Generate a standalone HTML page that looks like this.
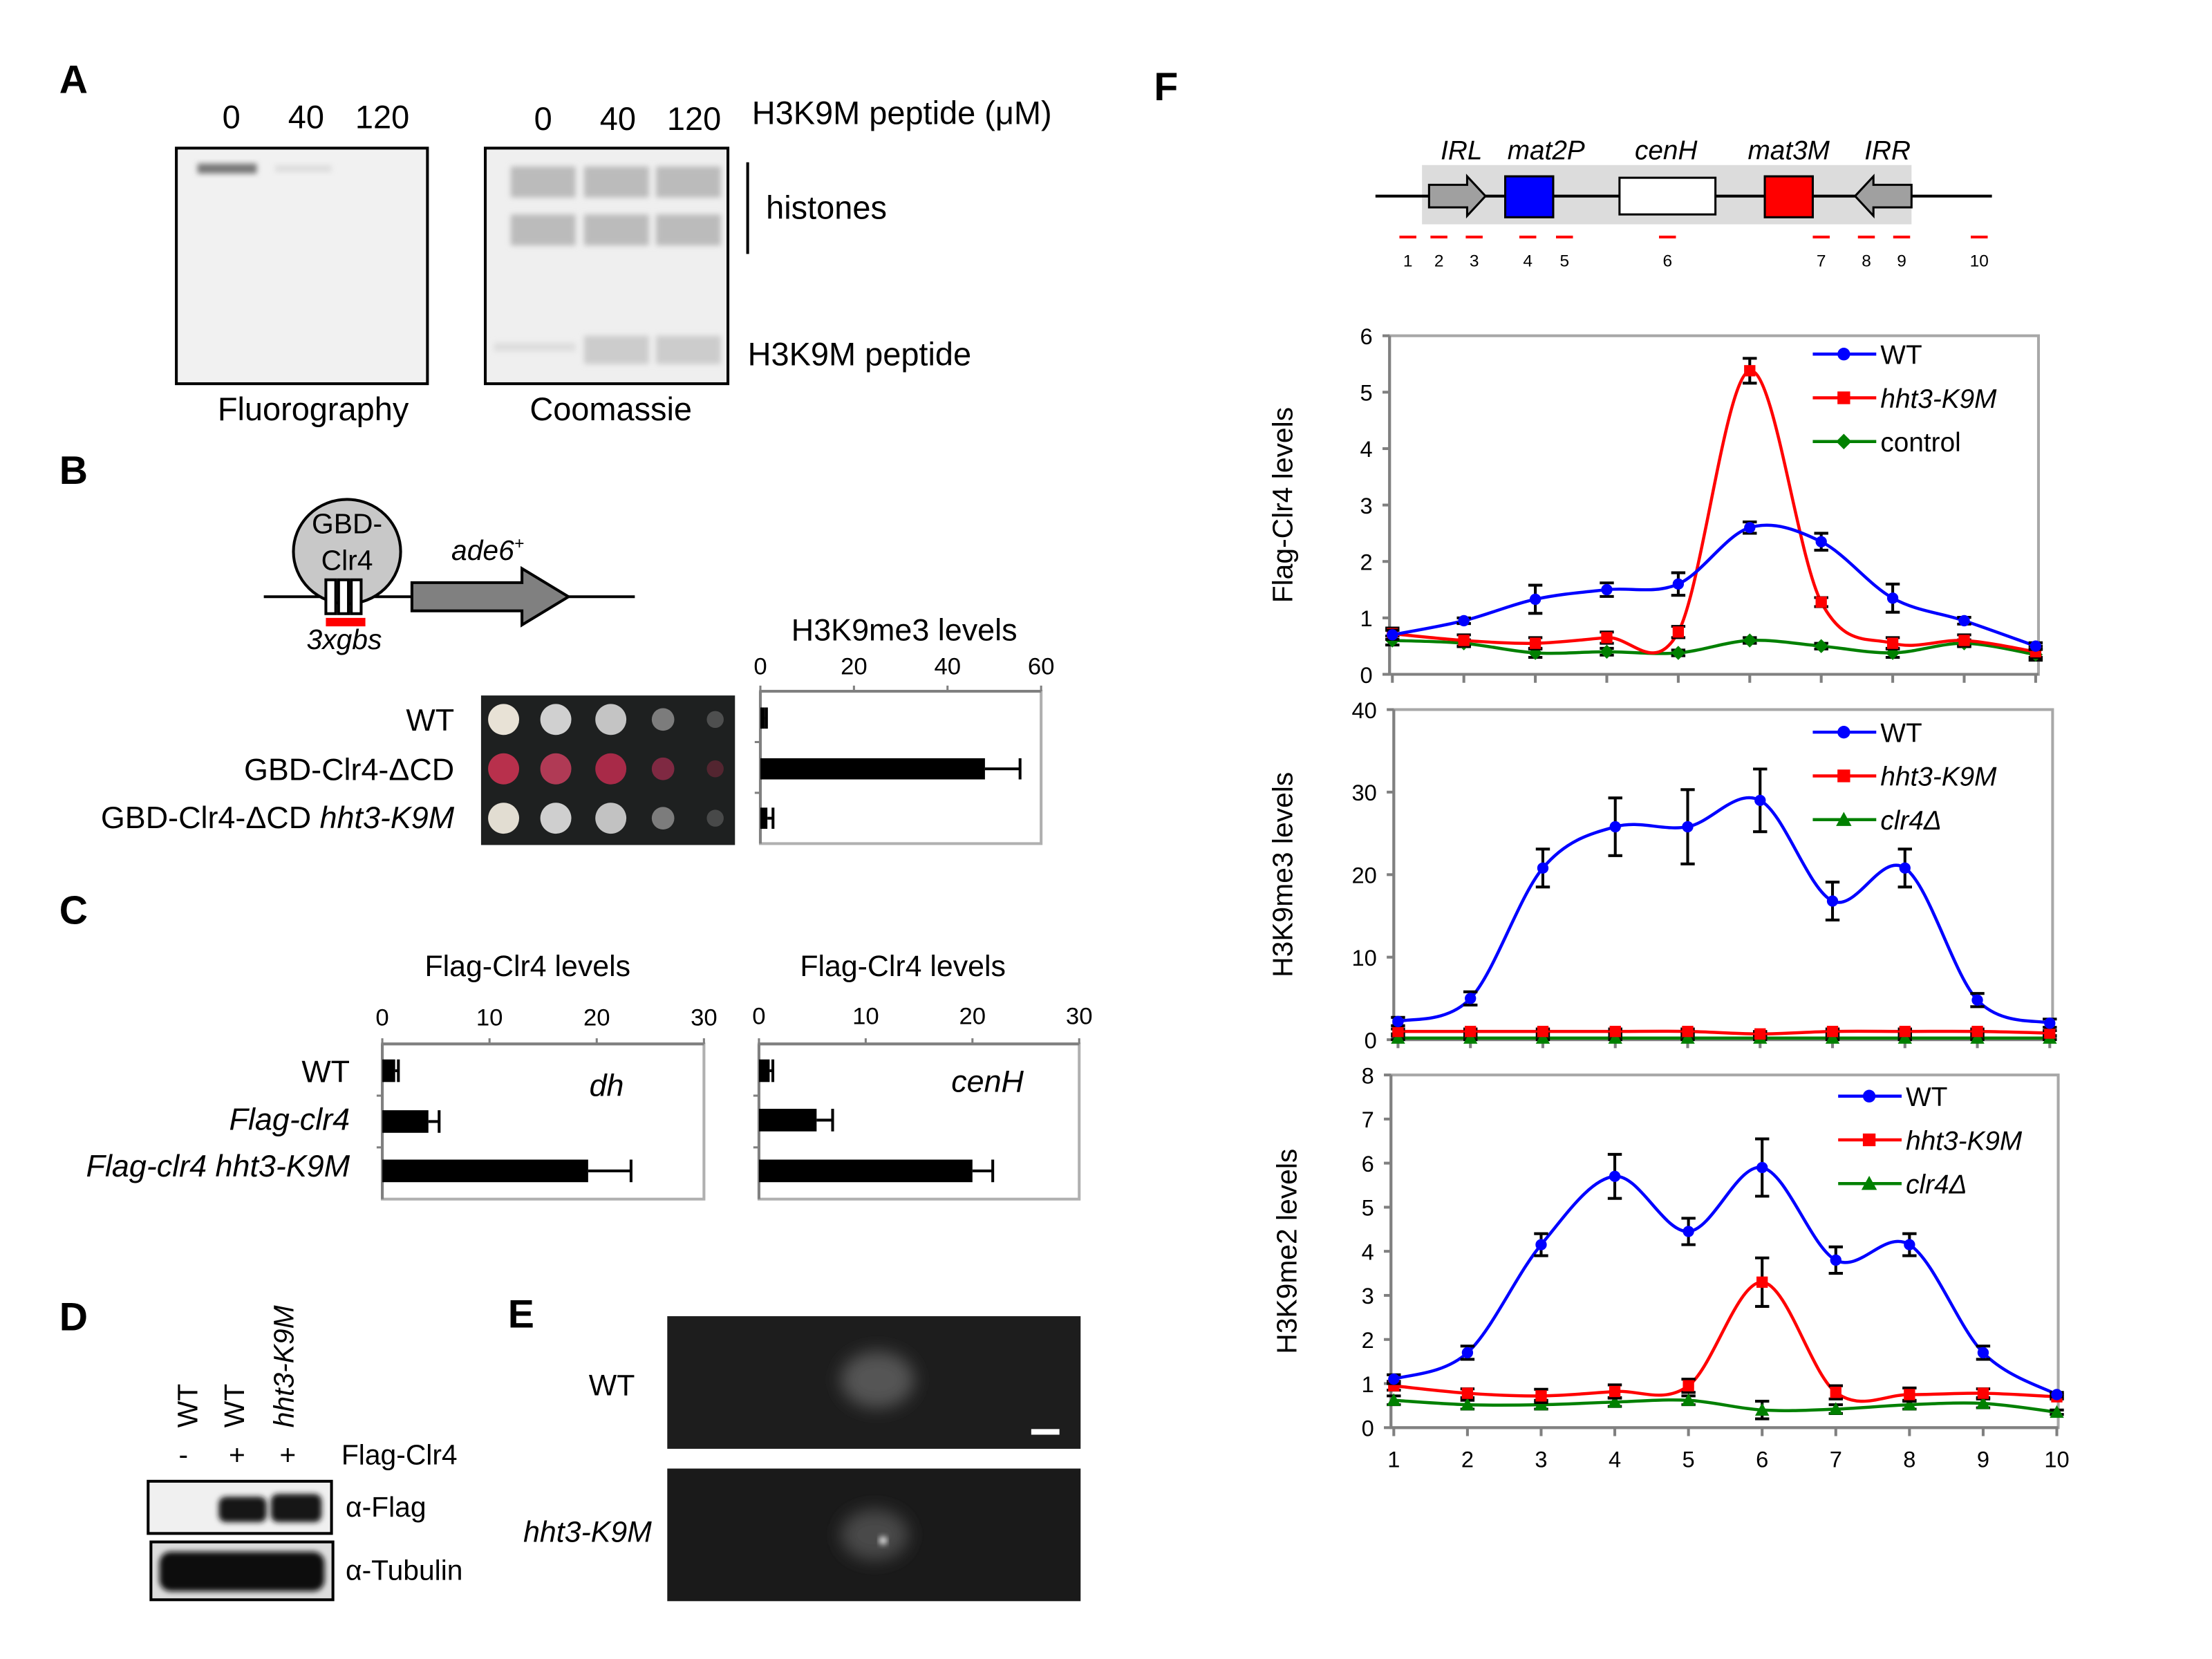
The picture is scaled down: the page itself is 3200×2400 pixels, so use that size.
<!DOCTYPE html>
<html><head><meta charset="utf-8"><style>
html,body{margin:0;padding:0;background:#fff;}
svg{display:block;}
text{font-family:"Liberation Sans",sans-serif;}
</style></head><body>
<svg id="fig" width="3200" height="2400" viewBox="0 0 1568 1176" xmlns="http://www.w3.org/2000/svg">
<defs>
<filter id="blur2" x="-20%" y="-50%" width="140%" height="200%"><feGaussianBlur stdDeviation="2"/></filter>
<filter id="blur6" x="-50%" y="-50%" width="200%" height="200%"><feGaussianBlur stdDeviation="6"/></filter>
</defs>
<rect width="1568" height="1176" fill="#fff"/>
<g font-size="28" font-weight="bold">
<text x="42" y="66">A</text><text x="42" y="343">B</text><text x="42" y="655">C</text>
<text x="42" y="943">D</text><text x="360" y="941">E</text><text x="818" y="71">F</text>
</g>
<g font-size="23">
<text x="164" y="91" text-anchor="middle">0</text><text x="217" y="91" text-anchor="middle">40</text><text x="271" y="91" text-anchor="middle">120</text>
<text x="385" y="92" text-anchor="middle">0</text><text x="438" y="92" text-anchor="middle">40</text><text x="492" y="92" text-anchor="middle">120</text>
<text x="533" y="88">H3K9M peptide (μM)</text>
<rect x="125" y="105" width="178" height="167" fill="#f1f1f1" stroke="#000" stroke-width="2"/>
<rect x="140" y="116" width="42" height="7" fill="#777" filter="url(#blur2)"/>
<rect x="195" y="117" width="40" height="5" fill="#ddd" filter="url(#blur2)"/>
<rect x="344" y="105" width="172" height="167" fill="#efefef" stroke="#000" stroke-width="2"/>
<g fill="#bbb" filter="url(#blur2)">
<rect x="362" y="118" width="46" height="22"/><rect x="414" y="118" width="46" height="22"/><rect x="465" y="118" width="46" height="22"/>
<rect x="362" y="152" width="46" height="22"/><rect x="414" y="152" width="46" height="22"/><rect x="465" y="152" width="46" height="22"/>
</g>
<g fill="#ccc" filter="url(#blur2)"><rect x="414" y="238" width="46" height="20"/><rect x="465" y="238" width="46" height="20"/><rect x="350" y="243" width="58" height="6" fill="#ddd"/></g>
<line x1="530" y1="115" x2="530" y2="180" stroke="#000" stroke-width="2"/>
<text x="543" y="155">histones</text>
<text x="530" y="259">H3K9M peptide</text>
<text x="222" y="298" text-anchor="middle">Fluorography</text>
<text x="433" y="298" text-anchor="middle">Coomassie</text>
</g>
<g>
<line x1="187" y1="423" x2="450" y2="423" stroke="#000" stroke-width="2"/>
<ellipse cx="246" cy="391" rx="38" ry="37" fill="#c8c8c8" stroke="#000" stroke-width="2"/>
<text x="246" y="378" font-size="20" text-anchor="middle">GBD-</text>
<text x="246" y="404" font-size="20" text-anchor="middle">Clr4</text>
<g fill="#fff" stroke="#000" stroke-width="2"><rect x="231" y="411" width="7" height="24"/><rect x="240" y="411" width="7" height="24"/><rect x="249" y="411" width="7" height="24"/></g>
<rect x="231" y="438" width="28" height="6" fill="#f00"/>
<text x="244" y="460" font-size="20" font-style="italic" text-anchor="middle">3xgbs</text>
<path d="M292,413 L370,413 L370,403 L403,423 L370,443 L370,433 L292,433Z" fill="#808080" stroke="#000" stroke-width="2"/>
<text x="320" y="397" font-size="20" font-style="italic">ade6<tspan font-size="12" dy="-8">+</tspan></text>
<g font-size="22" text-anchor="end">
<text x="322" y="518">WT</text><text x="322" y="553">GBD-Clr4-ΔCD</text>
<text x="322" y="587">GBD-Clr4-ΔCD <tspan font-style="italic">hht3-K9M</tspan></text>
</g>
<rect x="341" y="493" width="180" height="106" fill="#1e2020"/>
<g id="spots"></g>
<text x="641" y="454" font-size="22" text-anchor="middle">H3K9me3 levels</text>
<g id="chartB"></g>
</g>
<g>
<text x="374" y="692" font-size="21" text-anchor="middle">Flag-Clr4 levels</text>
<text x="640" y="692" font-size="21" text-anchor="middle">Flag-Clr4 levels</text>
<g font-size="22" text-anchor="end">
<text x="248" y="767">WT</text>
<text x="248" y="801" font-style="italic">Flag-clr4</text>
<text x="248" y="834" font-style="italic">Flag-clr4 hht3-K9M</text>
</g>
<g id="chartC1"></g><g id="chartC2"></g>
<text x="430" y="777" font-size="22" font-style="italic" text-anchor="middle">dh</text>
<text x="700" y="774" font-size="22" font-style="italic" text-anchor="middle">cenH</text>
</g>
<g font-size="20">
<text transform="translate(140,1012) rotate(-90)">WT</text>
<text transform="translate(173,1012) rotate(-90)">WT</text>
<text transform="translate(208,1012) rotate(-90)" font-style="italic">hht3-K9M</text>
<text x="130" y="1038" text-anchor="middle">-</text><text x="168" y="1038" text-anchor="middle">+</text><text x="204" y="1038" text-anchor="middle">+</text>
<text x="242" y="1038">Flag-Clr4</text>
<rect x="105" y="1050" width="130" height="37" fill="#f0f0f0" stroke="#000" stroke-width="2"/>
<rect x="155" y="1061" width="34" height="18" rx="5" fill="#151515" filter="url(#blur2)"/>
<rect x="192" y="1059" width="36" height="20" rx="5" fill="#151515" filter="url(#blur2)"/>
<text x="245" y="1075">α-Flag</text>
<rect x="107" y="1093" width="129" height="41" fill="#ddd" stroke="#000" stroke-width="2"/>
<rect x="113" y="1100" width="117" height="28" rx="8" fill="#111" filter="url(#blur2)"/>
<text x="245" y="1120">α-Tubulin</text>
</g>
<g font-size="21">
<rect x="473" y="933" width="293" height="94" fill="#1d1d1d"/>
<ellipse cx="622" cy="978" rx="26" ry="20" fill="#555" filter="url(#blur6)"/>
<rect x="731" y="1013" width="20" height="4" fill="#fff"/>
<rect x="473" y="1041" width="293" height="94" fill="#1a1a1a"/>
<ellipse cx="620" cy="1088" rx="24" ry="18" fill="#4a4a4a" filter="url(#blur6)"/>
<circle cx="626" cy="1092" r="3" fill="#ddd" filter="url(#blur2)"/>
<text x="450" y="989" text-anchor="end">WT</text>
<text x="462" y="1093" text-anchor="end" font-style="italic">hht3-K9M</text>
</g>
<g>
<rect x="1008" y="117" width="347" height="42" fill="#dcdcdc"/>
<line x1="975" y1="139" x2="1412" y2="139" stroke="#000" stroke-width="2"/>
<path d="M1013,131 L1040,131 L1040,125 L1053,139 L1040,153 L1040,147 L1013,147Z" fill="#a0a0a0" stroke="#000" stroke-width="1.5"/>
<path d="M1355,131 L1328,131 L1328,125 L1315,139 L1328,153 L1328,147 L1355,147Z" fill="#a0a0a0" stroke="#000" stroke-width="1.5"/>
<rect x="1067" y="125" width="34" height="29" fill="#00f" stroke="#000" stroke-width="1.5"/>
<rect x="1148" y="126" width="68" height="26" fill="#fff" stroke="#000" stroke-width="1.5"/>
<rect x="1251" y="125" width="34" height="29" fill="#f00" stroke="#000" stroke-width="1.5"/>
<g font-size="19" font-style="italic" text-anchor="middle">
<text x="1036" y="113">IRL</text><text x="1096" y="113">mat2P</text><text x="1181" y="113">cenH</text><text x="1268" y="113">mat3M</text><text x="1338" y="113">IRR</text></g>
<g id="primers"></g>
</g>
<g id="chartF1"></g><g id="chartF2"></g><g id="chartF3"></g>
</svg>
<script>
const NS='http://www.w3.org/2000/svg';
function mk(parent,tag,attrs,txt){const e=document.createElementNS(NS,tag);for(const k in attrs)e.setAttribute(k,attrs[k]);if(txt!==undefined)e.textContent=txt;parent.appendChild(e);return e;}

const bCategories=['WT','GBD-Clr4-ΔCD','GBD-Clr4-ΔCD hht3-K9M'];
const bValues=[1,48,1.5];
const bErrors=[0.3,7.5,1.2];
const bTicks=[0,20,40,60];
const cCategories=['WT','Flag-clr4','Flag-clr4 hht3-K9M'];
const cDhValues=[1.2,4.3,19.2];
const cDhErrors=[0.3,1,4];
const cCenhValues=[1,5.4,20];
const cCenhErrors=[0.3,1.5,1.9];
const cTicks=[0,10,20,30];
const fSites=[1,2,3,4,5,6,7,8,9,10];
const f1WT=[0.7,0.95,1.33,1.5,1.6,2.6,2.35,1.35,0.95,0.5];
const f1WTerr=[0.08,0.05,0.25,0.12,0.2,0.1,0.15,0.25,0.06,0.06];
const f1K9M=[0.72,0.6,0.55,0.65,0.75,5.38,1.28,0.55,0.6,0.4];
const f1K9Merr=[0.1,0.1,0.1,0.1,0.1,0.22,0.08,0.1,0.1,0.1];
const f1Ctrl=[0.6,0.55,0.38,0.4,0.38,0.6,0.5,0.38,0.55,0.35];
const f1CtrlErr=[0.08,0.06,0.08,0.06,0.05,0.05,0.05,0.08,0.06,0.1];
const f1Ticks=[0,1,2,3,4,5,6];
const f2WT=[2.2,5,20.8,25.8,25.8,29,16.8,20.8,4.8,2];
const f2WTerr=[0.5,0.8,2.3,3.5,4.5,3.8,2.3,2.3,0.8,0.5];
const f2K9M=[1,1,1,1,1,0.7,1,1,1,0.8];
const f2K9Merr=[0.3,0.3,0.3,0.3,0.3,0.3,0.3,0.3,0.3,0.3];
const f2Clr4=[0.2,0.2,0.2,0.2,0.2,0.2,0.2,0.2,0.2,0.2];
const f2Clr4err=[0.2,0.2,0.2,0.2,0.2,0.2,0.2,0.2,0.2,0.2];
const f2Ticks=[0,10,20,30,40];
const f3WT=[1.1,1.7,4.15,5.7,4.45,5.9,3.8,4.15,1.7,0.75];
const f3WTerr=[0.1,0.15,0.25,0.5,0.3,0.65,0.3,0.25,0.15,0.05];
const f3K9M=[0.95,0.78,0.72,0.82,0.95,3.3,0.8,0.75,0.78,0.7];
const f3K9Merr=[0.1,0.1,0.15,0.15,0.15,0.55,0.15,0.15,0.1,0.05];
const f3Clr4=[0.62,0.52,0.52,0.58,0.62,0.4,0.42,0.52,0.55,0.35];
const f3Clr4err=[0.1,0.1,0.1,0.1,0.1,0.2,0.1,0.1,0.1,0.05];
const f3Ticks=[0,1,2,3,4,5,6,7,8];
const primerLabels=['1','2','3','4','5','6','7','8','9','10'];

(function(){
  const g=document.getElementById('spots');
  const rows=[{y:510,c:['#e8e2d6','#d0d0d0','#c4c4c4','#bbb','#aaa']},{y:545,c:['#b8304c','#b03a55','#a82a48','#c0305a','#b83050']},{y:580,c:['#e2ddd2','#cfcfcf','#c2c2c2','#bbb','#999']}];
  const xs=[357,394,433,470,507];
  rows.forEach((r,ri)=>{xs.forEach((x,i)=>{
    const rad=[11,11,11,8,6][i];
    const op=[1,1,1,0.6,0.35][i];
    const s=mk(g,'circle',{cx:x,cy:r.y,r:rad,fill:r.c[i],opacity:op});
    
    
  });});
})();

function hbar(gid,x0,x1,y0,y1,ticks,vals,errs,centers,bh,tickFont,tickY){
  const g=document.getElementById(gid);
  const max=ticks[ticks.length-1];
  const sx=v=>x0+(x1-x0)*v/max;
  mk(g,'rect',{x:x0,y:y0,width:x1-x0,height:y1-y0,fill:'none',stroke:'#b0b0b0','stroke-width':2});
  mk(g,'line',{x1:x0,y1:y0,x2:x0,y2:y1,stroke:'#808080','stroke-width':2});
  mk(g,'line',{x1:x0,y1:y0,x2:x1,y2:y0,stroke:'#808080','stroke-width':2});
  ticks.forEach(t=>{
    mk(g,'line',{x1:sx(t),y1:y0-4,x2:sx(t),y2:y0,stroke:'#808080','stroke-width':1.5});
    const tl=mk(g,'text',{x:sx(t),y:tickY,'font-size':tickFont,'text-anchor':'middle'},String(t));
    
    
  });
  const step=(y1-y0)/vals.length;
  for(let i=1;i<vals.length;i++) mk(g,'line',{x1:x0-4,y1:y0+step*i,x2:x0,y2:y0+step*i,stroke:'#808080','stroke-width':1.5});
  vals.forEach((v,i)=>{
    const cy=centers[i];
    const b=mk(g,'rect',{x:x0,y:cy-bh/2,width:sx(v)-x0,height:bh,fill:'#000'});
    
    
    const xe=sx(v+errs[i]);
    mk(g,'line',{x1:sx(v),y1:cy,x2:xe,y2:cy,stroke:'#000','stroke-width':2});
    mk(g,'line',{x1:xe,y1:cy-bh/2,x2:xe,y2:cy+bh/2,stroke:'#000','stroke-width':2});
  });
}
hbar('chartB',539,738,490,598,bTicks,bValues,bErrors,[509,545,580],15,17,478);
hbar('chartC1',271,499,740,850,cTicks,cDhValues,cDhErrors,[759,795,830],16,17,727);
hbar('chartC2',538,765,740,850,cTicks,cCenhValues,cCenhErrors,[759,794,830],16,17,726);

(function(){
  const g=document.getElementById('primers');
  const px=[998,1020,1045,1083,1109,1182,1291,1323,1348,1403];
  primerLabels.forEach((l,i)=>{
    mk(g,'line',{x1:px[i]-6,y1:168,x2:px[i]+6,y2:168,stroke:'#f00','stroke-width':2});
    const t=mk(g,'text',{x:px[i],y:189,'font-size':12,'text-anchor':'middle'},l);
    
    
  });
})();

function smoothPath(pts){
  let d='M'+pts[0][0]+','+pts[0][1];
  for(let i=0;i<pts.length-1;i++){
    const p0=pts[i-1]||pts[i],p1=pts[i],p2=pts[i+1],p3=pts[i+2]||pts[i+1];
    const c1=[p1[0]+(p2[0]-p0[0])/6,p1[1]+(p2[1]-p0[1])/6];
    const c2=[p2[0]-(p3[0]-p1[0])/6,p2[1]-(p3[1]-p1[1])/6];
    d+=' C'+c1[0]+','+c1[1]+' '+c2[0]+','+c2[1]+' '+p2[0]+','+p2[1];
  }
  return d;
}
function marker(g,type,x,y,color,r){
  let m;
  if(type==='circle') m=mk(g,'circle',{cx:x,cy:y,r:r,fill:color});
  else if(type==='square') m=mk(g,'rect',{x:x-r,y:y-r,width:2*r,height:2*r,fill:color});
  else if(type==='diamond') m=mk(g,'path',{d:`M${x},${y-r-1}L${x+r+1},${y}L${x},${y+r+1}L${x-r-1},${y}Z`,fill:color});
  else m=mk(g,'path',{d:`M${x},${y-r-1}L${x+r+1},${y+r}L${x-r-1},${y+r}Z`,fill:color});
  return m;
}
function lineChart(gid,cfg){
  const g=document.getElementById(gid);
  const max=cfg.ticks[cfg.ticks.length-1];
  const sx=s=>cfg.xa+(cfg.xb-cfg.xa)*(s-1)/(fSites.length-1);
  const sy=v=>cfg.y1-(cfg.y1-cfg.y0)*v/max;
  mk(g,'rect',{x:cfg.bx0,y:cfg.y0,width:cfg.bx1-cfg.bx0,height:cfg.y1-cfg.y0,fill:'none',stroke:'#a8a8a8','stroke-width':2});
  mk(g,'line',{x1:cfg.bx0,y1:cfg.y0,x2:cfg.bx0,y2:cfg.y1,stroke:'#808080','stroke-width':2});
  mk(g,'line',{x1:cfg.bx0,y1:cfg.y1,x2:cfg.bx1,y2:cfg.y1,stroke:'#808080','stroke-width':2});
  cfg.ticks.forEach(t=>{
    mk(g,'line',{x1:cfg.bx0-5,y1:sy(t),x2:cfg.bx0,y2:sy(t),stroke:'#808080','stroke-width':2});
    const tl=mk(g,'text',{x:cfg.bx0-12,y:sy(t)+6,'font-size':16,'text-anchor':'end'},String(t));
    
    
  });
  fSites.forEach(s=>{
    mk(g,'line',{x1:sx(s),y1:cfg.y1,x2:sx(s),y2:cfg.y1+6,stroke:'#808080','stroke-width':2});
    if(cfg.xlabels){
      const tl=mk(g,'text',{x:sx(s),y:cfg.y1+28,'font-size':16,'text-anchor':'middle'},String(s));
      
      
    }
  });
  const yt=mk(g,'text',{transform:`translate(${cfg.titleX},${(cfg.y0+cfg.y1)/2}) rotate(-90)`,'font-size':20,'text-anchor':'middle'},cfg.title);
  
  
  cfg.series.slice().reverse().forEach(se=>{
    const pts=se.v.map((v,i)=>[sx(fSites[i]),sy(v)]);
    const p=mk(g,'path',{d:smoothPath(pts),fill:'none',stroke:se.c,'stroke-width':2.2});
    
    
    se.v.forEach((v,i)=>{
      const x=sx(fSites[i]),ya=sy(v+se.e[i]),yb=sy(Math.max(0,v-se.e[i]));
      mk(g,'path',{d:`M${x},${ya}V${yb}M${x-5},${ya}H${x+5}M${x-5},${yb}H${x+5}`,stroke:'#000','stroke-width':2,fill:'none'});
      const m=marker(g,se.m,x,sy(v),se.c,4);
      
      
    });
  });
  cfg.series.forEach((se,i)=>{
    const ly=cfg.legY+i*31;
    const lg=mk(g,'g',{});
    
    
    mk(lg,'line',{x1:cfg.legX,y1:ly,x2:cfg.legX+45,y2:ly,stroke:se.c,'stroke-width':2.2});
    marker(lg,se.m,cfg.legX+22,ly,se.c,4.5);
    mk(lg,'text',{x:cfg.legX+48,y:ly+7,'font-size':19,'font-style':se.it?'italic':'normal'},se.label);
  });
}
lineChart('chartF1',{xa:987,xb:1443,bx0:985,bx1:1445,y0:238,y1:478,ticks:f1Ticks,title:'Flag-Clr4 levels',titleX:916,legX:1285,legY:251,
  series:[{name:'wt',label:'WT',v:f1WT,e:f1WTerr,c:'#0000ff',m:'circle'},{name:'hht3-k9m',label:'hht3-K9M',it:true,v:f1K9M,e:f1K9Merr,c:'#ff0000',m:'square'},{name:'control',label:'control',v:f1Ctrl,e:f1CtrlErr,c:'#008000',m:'diamond'}]});
lineChart('chartF2',{xa:991,xb:1453,bx0:988,bx1:1455,y0:503,y1:737,ticks:f2Ticks,title:'H3K9me3 levels',titleX:916,legX:1285,legY:519,
  series:[{name:'wt',label:'WT',v:f2WT,e:f2WTerr,c:'#0000ff',m:'circle'},{name:'hht3-k9m',label:'hht3-K9M',it:true,v:f2K9M,e:f2K9Merr,c:'#ff0000',m:'square'},{name:'clr4-delta',label:'clr4Δ',it:true,v:f2Clr4,e:f2Clr4err,c:'#008000',m:'triangle'}]});
lineChart('chartF3',{xa:988,xb:1458,bx0:986,bx1:1459,y0:762,y1:1012,ticks:f3Ticks,title:'H3K9me2 levels',titleX:919,legX:1303,legY:777,xlabels:true,
  series:[{name:'wt',label:'WT',v:f3WT,e:f3WTerr,c:'#0000ff',m:'circle'},{name:'hht3-k9m',label:'hht3-K9M',it:true,v:f3K9M,e:f3K9Merr,c:'#ff0000',m:'square'},{name:'clr4-delta',label:'clr4Δ',it:true,v:f3Clr4,e:f3Clr4err,c:'#008000',m:'triangle'}]});
</script>
</body></html>
